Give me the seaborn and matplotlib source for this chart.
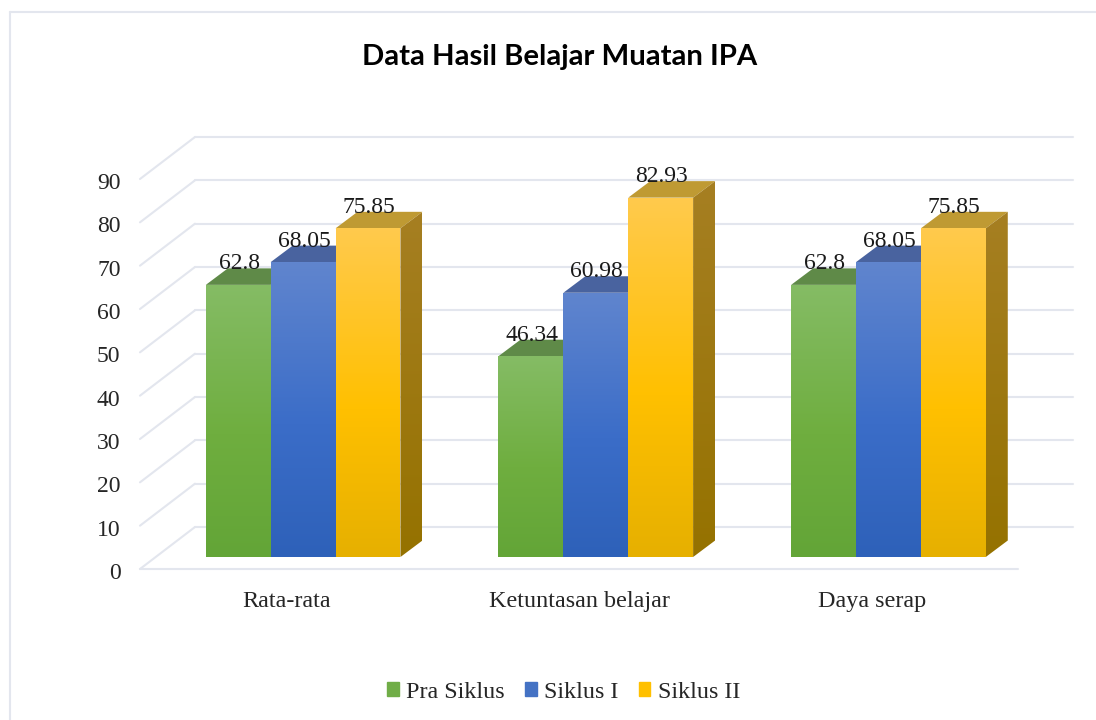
import numpy as np
import pandas as pd
import seaborn as sns
import matplotlib.pyplot as plt
from matplotlib.colors import LinearSegmentedColormap
from matplotlib.lines import Line2D
from matplotlib.patches import Polygon
from matplotlib.transforms import ScaledTranslation

categories = ['Rata-rata', 'Ketuntasan belajar', 'Daya serap']
series_names = ['Pra Siklus', 'Siklus I', 'Siklus II']
pra_siklus = [62.8, 46.34, 62.8]
siklus_1 = [68.05, 60.98, 68.05]
siklus_2 = [75.85, 82.93, 75.85]
y_ticks = list(range(0, 100, 10))

# colours: legend/base, front gradient (top, mid, bottom), side, roof
base_colors = ['#70AD47', '#4472C4', '#FFC000']
front_colors = [['#85BC65', '#6FAE3F', '#63A537'],
                ['#6085CE', '#3B6DC8', '#2E61B9'],
                ['#FFCA4D', '#FFC000', '#E6B000']]
side_colors = [['#5A8537', '#4A7A2A'], ['#35558F', '#2A4A85'], ['#A67F22', '#957200']]
roof_colors = ['#5F8A48', '#49639F', '#BF9A33']
grid_color = '#E3E6EE'

sns.set_theme(style='white')
plt.rcParams['font.family'] = ['Liberation Serif', 'DejaVu Sans']

W, H = 1096, 720
fig = plt.figure(figsize=(W / 100, H / 100), dpi=100, facecolor='white')
ax = fig.add_axes([140 / W, (H - 569) / H, 878 / W, 390 / H])

df = pd.DataFrame({
    'kategori': categories * 3,
    'siklus': np.repeat(series_names, 3),
    'nilai': pra_siklus + siklus_1 + siklus_2,
})

sns.barplot(data=df, x='kategori', y='nilai', hue='siklus', palette=base_colors,
            saturation=1, width=0.665, gap=0, legend=False, ax=ax, zorder=3, linewidth=0)

ax.set_xlim(-0.5, 2.5)
ax.set_ylim(0, 90)
px_x = 3 / 878
px_y = 90 / 390
wall_dx, wall_dy = 55 * px_x, 42 * px_y
off_dx, off_dy = 16.8 * px_x, 12 * px_y
bar_dx, bar_dy = 22 * px_x, 16.5 * px_y


def gradient_poly(pts, stops, z):
    # vertical gradient clipped to a polygon
    pts = np.array(pts)
    cmap = LinearSegmentedColormap.from_list('g', stops)
    img = ax.imshow(np.linspace(0, 1, 256).reshape(-1, 1), cmap=cmap, aspect='auto',
                    extent=(pts[:, 0].min(), pts[:, 0].max(), pts[:, 1].min(), pts[:, 1].max()),
                    origin='upper', zorder=z)
    img.set_clip_path(Polygon(pts, transform=ax.transData))


# back wall, side wall and floor lines
for v in y_ticks:
    ax.plot([-0.5, -0.5 + wall_dx], [v, v + wall_dy], color=grid_color, lw=1.5, clip_on=False, zorder=1)
    ax.plot([-0.5 + wall_dx, 2.5 + wall_dx], [v + wall_dy, v + wall_dy], color=grid_color,
            lw=1.5, clip_on=False, zorder=1)
ax.plot([-0.5, 2.5], [0, 0], color=grid_color, lw=1.5, clip_on=False, zorder=1)

for i, container in enumerate(ax.containers):
    for bar in container:
        bar.set_x(bar.get_x() + off_dx)
        bar.set_y(off_dy)
        bar.set_clip_on(False)
        x0, w, h = bar.get_x(), bar.get_width(), bar.get_height()
        y0, y1 = off_dy, off_dy + h
        x1 = x0 + w
        z = 3 + i
        bar.set_zorder(z + 0.1)
        ax.add_patch(Polygon([(x0, y1), (x1, y1), (x1 + bar_dx, y1 + bar_dy), (x0 + bar_dx, y1 + bar_dy)],
                             color=roof_colors[i], lw=0, zorder=z, clip_on=False))
        gradient_poly([(x1, y0), (x1 + bar_dx, y0 + bar_dy), (x1 + bar_dx, y1 + bar_dy), (x1, y1)],
                      side_colors[i], z)
        gradient_poly([(x0, y0), (x1, y0), (x1, y1), (x0, y1)],
                      [(0, front_colors[i][0]), (0.55, front_colors[i][1]), (1, front_colors[i][2])], z + 0.2)
        ax.text(x0 + w / 2 + 1 * px_x, y1 + 21 * px_y, f'{h:g}', ha='center', va='center', fontsize=17,
                color='#1a1a1a', zorder=10, clip_on=False)

ax.set_xlim(-0.5, 2.5)
ax.set_ylim(0, 90)
ax.set_yticks(y_ticks)
ax.set_xlabel('')
ax.set_ylabel('')
ax.tick_params(axis='y', length=0, pad=14, labelsize=17, labelcolor='#262626')
ax.tick_params(axis='x', length=0, pad=16, labelsize=17.4, labelcolor='#262626')
# y labels sit a little below their tick height
for lab in ax.get_yticklabels():
    lab.set_transform(lab.get_transform() + ScaledTranslation(0, -2 / 100, fig.dpi_scale_trans))
sns.despine(ax=ax, left=True, bottom=True)
ax.patch.set_visible(False)

fig.text(560 / W, (H - 57) / H, 'Data Hasil Belajar Muatan IPA', ha='center', va='center',
         fontsize=21.1, fontweight='bold', family='Lato', color='black')

handles = [Polygon([(0, 0)], color=c) for c in base_colors]
fig.legend(handles, series_names, loc='center', bbox_to_anchor=(563.5 / W, (H - 692) / H), ncol=3,
           frameon=False, fontsize=17.4, handlelength=0.48, handleheight=0.48, handletextpad=0.3,
           columnspacing=0.85, labelcolor='#262626')

# faint frame of the chart area
fig.add_artist(Line2D([10 / W, 1], [(H - 12) / H] * 2, color=grid_color, lw=1.5))
fig.add_artist(Line2D([10 / W, 10 / W], [0, (H - 12) / H], color=grid_color, lw=1.5))

fig.savefig('out.png', dpi=100)
